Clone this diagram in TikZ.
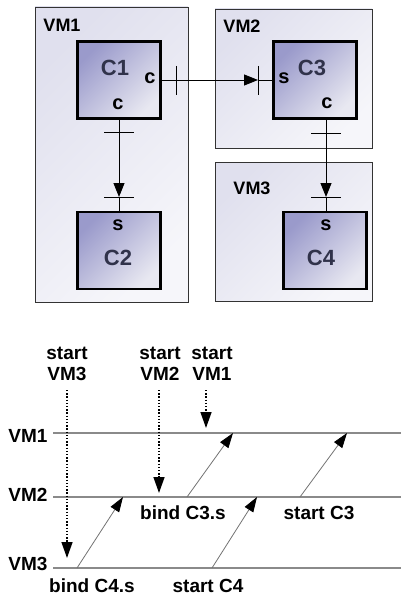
\documentclass[tikz,border=0pt]{standalone}
\usepackage{fontspec}
\setmainfont{Liberation Sans}
\usetikzlibrary{arrows.meta}
\definecolor{cdark}{HTML}{9A9ACB}
\definecolor{clight}{HTML}{E8E8F1}
\definecolor{vdark}{HTML}{E0E0EE}
\definecolor{vlight}{HTML}{F6F6FA}
\definecolor{ctext}{HTML}{30324A}
\definecolor{tline}{HTML}{8A8A8A}
\begin{document}
\begin{tikzpicture}[x=1pt,y=-1pt,
  vmbox/.style={draw=black!80, line width=0.9pt, top color=vdark, bottom color=vlight, shading angle=45, inner sep=0pt, outer sep=0pt},
  cbox/.style={draw=black, line width=2.5pt, top color=cdark, bottom color=clight, shading angle=45, inner sep=0pt, outer sep=0pt, minimum width=83pt, minimum height=77pt},
  vmlab/.style={font=\fontsize{18}{20}\selectfont\bfseries, inner sep=1pt},
  clab/.style={font=\fontsize{22}{24}\selectfont\bfseries, text=ctext, inner sep=1pt},
  plab/.style={font=\fontsize{19}{21}\selectfont\bfseries, inner sep=1pt},
  ilab/.style={font=\fontsize{20}{22}\selectfont\bfseries, inner sep=1pt},
  lab/.style={font=\fontsize{19}{21}\selectfont\bfseries, inner sep=1pt, align=center},
  tick/.style={line width=0.9pt},
  conn/.style={line width=0.9pt},
  tip/.style={-{Triangle[length=14pt,width=11pt,color=black]}},
  tl/.style={draw=tline, line width=1.2pt},
  msg/.style={draw=black!55, line width=0.8pt, -{Triangle[length=15pt,width=10pt,color=black]}},
  dots/.style={line width=1.4pt, dash pattern=on 1.4pt off 1.8pt, -{Triangle[length=16pt,width=11pt,color=black]}}
]
\useasboundingbox (0,0) rectangle (401,599);

% VM boxes
\node[vmbox, minimum width=153pt, minimum height=295pt] (VM1) at (111.5,154.5) {};
\node[vmbox, minimum width=157pt, minimum height=139pt] (VM2) at (293.5,78.5) {};
\node[vmbox, minimum width=157pt, minimum height=139pt] (VM3) at (293.5,231.5) {};
\node[vmlab] (vm1l) at (62,25) {VM1};
\node[vmlab] (vm2l) at (242,26) {VM2};
\node[vmlab] (vm3l) at (252,188) {VM3};

% component boxes
\node[cbox] (C1) at (119,80) {};
\node[cbox] (C3) at (315,80) {};
\node[cbox] (C2) at (119,250.5) {};
\node[cbox] (C4) at (325,250.5) {};

\node[clab] (c1t) at (115,68) {C1};
\node[clab] (c3t) at (312,68) {C3};
\node[clab] (c2t) at (118,258) {C2};
\node[clab] (c4t) at (321,258) {C4};

\node[ilab] (c1c) at (150,78) {c};
\node[ilab] (c1b) at (118,104) {c};
\node[ilab] (c3s) at (284,78) {s};
\node[ilab] (c3c) at (327,103) {c};
\node[ilab] (c2s) at (118,225) {s};
\node[ilab] (c4s) at (326,225) {s};

% connectors
\coordinate (t13) at (258,80);
\draw[conn, tip] (C1.east) -- (t13);
\draw[conn] (t13) -- (C3.west);
\draw[tick] (176,66) -- (176,95);
\draw[tick] (258,66) -- (258,95);

\coordinate (t12) at (119,197);
\draw[conn, tip] (C1.south) -- (t12);
\draw[conn] (t12) -- (C2.north);
\draw[tick] (104,132) -- (134,132);
\draw[tick] (104,197) -- (134,197);

\coordinate (c3bot) at (326,118);
\coordinate (t34) at (326,197);
\draw[conn, tip] (c3bot) -- (t34);
\draw[conn] (t34) -- (326,211);
\draw[tick] (311,133) -- (341,133);
\draw[tick] (311,197) -- (341,197);

% timeline
\node[plab] (lv1) at (28,436) {VM1};
\node[plab] (lv2) at (28,495) {VM2};
\node[plab] (lv3) at (28,564) {VM3};
\coordinate (e1) at (401,433);
\coordinate (e2) at (401,497);
\coordinate (e3) at (401,568);
\coordinate (s1) at (53,433);
\coordinate (s2) at (53,497);
\coordinate (s3) at (53,568);
\draw[tl] (s1) -- (e1);
\draw[tl] (s2) -- (e2);
\draw[tl] (s3) -- (e3);

\node[lab] (sv3) at (67,364) {start\\VM3};
\node[lab] (sv2) at (160,364) {start\\VM2};
\node[lab] (sv1) at (212,364) {start\\VM1};
\coordinate (d3a) at (67,390);
\coordinate (d3b) at (67,558);
\coordinate (d2a) at (159,390);
\coordinate (d2b) at (159,493);
\coordinate (d1a) at (206,390);
\coordinate (d1b) at (206,428);
\draw[dots] (d3a) -- (d3b);
\draw[dots] (d2a) -- (d2b);
\draw[dots] (d1a) -- (d1b);

\coordinate (m1a) at (77,568);  \coordinate (m1b) at (123,497);
\coordinate (m2a) at (187,497); \coordinate (m2b) at (233,433);
\coordinate (m3a) at (212,568); \coordinate (m3b) at (257,497);
\coordinate (m4a) at (300,497); \coordinate (m4b) at (347,433);
\draw[msg] (m1a) -- (m1b);
\draw[msg] (m2a) -- (m2b);
\draw[msg] (m3a) -- (m3b);
\draw[msg] (m4a) -- (m4b);

\node[plab] (b3) at (183,513) {bind C3.s};
\node[plab] (sc3) at (319,513) {start C3};
\node[plab] (b4) at (92,586) {bind C4.s};
\node[plab] (sc4) at (208,586) {start C4};
\end{tikzpicture}
\end{document}
